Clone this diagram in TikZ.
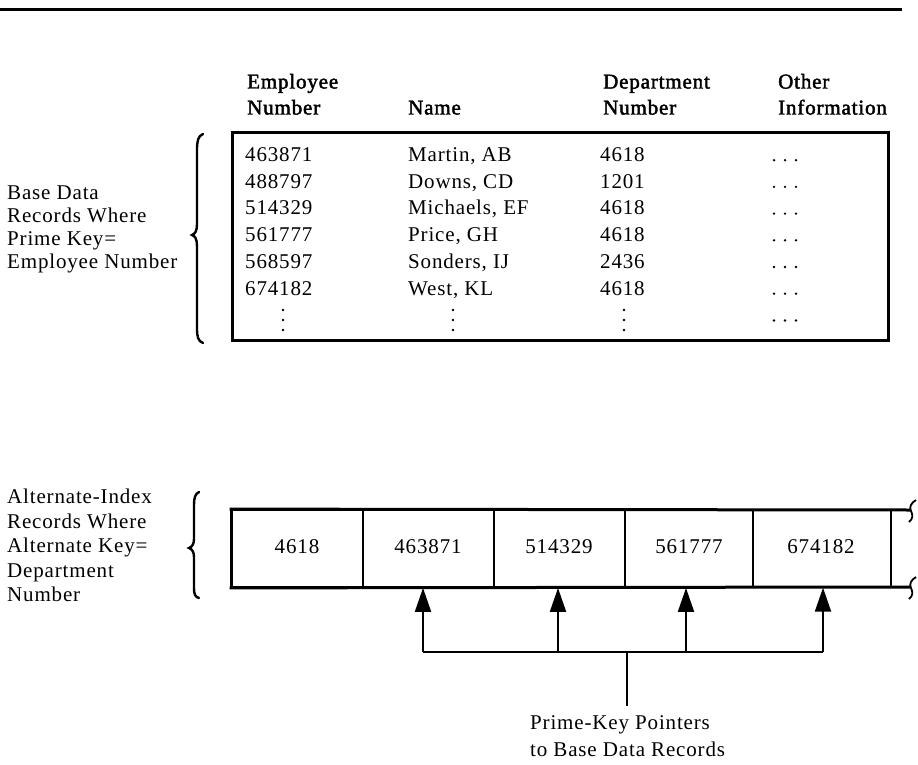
\documentclass[tikz,border=0pt]{standalone}
\usepackage{fontspec}
\setmainfont{Liberation Serif}[LetterSpace=4]
\usetikzlibrary{arrows.meta}
\begin{document}
\begin{tikzpicture}[x=1pt,y=-1pt,
  txt/.style={inner sep=0pt, anchor=base west, font=\fontsize{21}{25}\selectfont},
  hdr/.style={txt, font=\fontsize{21}{25}\selectfont\addfontfeature{FakeBold=2}},
  ctr/.style={inner sep=0pt, anchor=base, font=\fontsize{21}{25}\selectfont},
  cell/.style={draw, line width=1.8pt, inner sep=0pt, minimum height=77pt},
  ptr/.style={line width=2pt, -{Triangle[length=24pt,width=16pt]}},
  wire/.style={line width=2pt},
  brace/.style={line width=2.4pt, line cap=round}]
\useasboundingbox (0,0) rectangle (918,765);
% top rule
\draw[line width=3pt] (0,10) -- (902,10);
% headers
\node[hdr] (h1a) at (247,88.5) {Employee};
\node[hdr] (h1b) at (247,114.5) {Number};
\node[hdr] (h2)  at (408,114.5) {Name};
\node[hdr] (h3a) at (603,88.5) {Department};
\node[hdr] (h3b) at (603,114.5) {Number};
\node[hdr] (h4a) at (778,88.5) {Other};
\node[hdr] (h4b) at (778,114.5) {Information};
% table box
\node[draw, line width=3pt, inner sep=0pt, minimum width=656pt, minimum height=207pt] (tbl) at (560,236.5) {};
% rows
\foreach \i/\a/\b/\c in {0/463871/{Martin, AB}/4618, 1/488797/{Downs, CD}/1201, 2/514329/{Michaels, EF}/4618,
  3/561777/{Price, GH}/4618, 4/568597/{Sonders, IJ}/2436, 5/674182/{West, KL}/4618}{
  \node[txt] (ra\i) at (245,161.5+26.7*\i) {\a};
  \node[txt] (rb\i) at (408,161.5+26.7*\i) {\b};
  \node[txt] (rc\i) at (600,161.5+26.7*\i) {\c};
  \foreach \k in {0,1,2} \fill (774+11*\k,161.5+26.7*\i-1.3) circle (1.3pt);
}
% continuation dots
\foreach \x in {283,453,624} \foreach \k in {0,1,2} \fill (\x,310+10*\k) circle (1.4pt);
\foreach \k in {0,1,2} \fill (774+11*\k,320.5) circle (1.3pt);
% left label top
\node[txt] (l1) at (7,199.5) {Base Data};
\node[txt] (l2) at (7,222.5) {Records Where};
\node[txt] (l3) at (7,245.5) {Prime Key=};
\node[txt] (l4) at (7,268.5) {Employee Number};
% top brace
\draw[brace] (203,134) .. controls (198,136) and (197,141) .. (197,150) -- (197,224)
  .. controls (197,231) and (195,234) .. (192,235) .. controls (195,236) and (197,239) .. (197,246)
  -- (197,328) .. controls (197,337) and (198,341) .. (203,343);
% bottom labels
\node[txt] (m1) at (7,503.5) {Alternate-Index};
\node[txt] (m2) at (7,528) {Records Where};
\node[txt] (m3) at (7,552.5) {Alternate Key=};
\node[txt] (m4) at (7,577) {Department};
\node[txt] (m5) at (7,601.5) {Number};
% bottom brace
\draw[brace] (199,492) .. controls (195,494) and (194,498) .. (194,505) -- (194,539)
  .. controls (194,544) and (192,547) .. (189,548) .. controls (192,549) and (194,552) .. (194,557)
  -- (194,588) .. controls (194,594) and (195,597) .. (199,598);
% index record cells
\node[cell, minimum width=131pt] (c1) at (297.5,548.5) {};
\node[cell, minimum width=131pt] (c2) at (428.5,548.5) {};
\node[cell, minimum width=131pt] (c3) at (559.5,548.5) {};
\node[cell, minimum width=128pt] (c4) at (689,548.5) {};
\node[cell, minimum width=138pt, line width=1.4pt] (c5) at (822,548.5) {};
\node[ctr] (t1) at (297,553.5) {4618};
\node[ctr] (t2) at (428,553.5) {463871};
\node[ctr] (t3) at (559,553.5) {514329};
\node[ctr] (t4) at (689,553.5) {561777};
\node[ctr] (t5) at (821,553.5) {674182};
% outer lines of the record
\draw[line width=3pt] (c1.north west) -- (c1.south west);
\draw[line width=3pt] ([xshift=-1.5pt]c1.north west) -- (910,510);
\draw[line width=3pt] ([xshift=-1.5pt]c1.south west) -- (910,587);
\draw[line width=1.8pt] (916,500) .. controls (911,503) and (909,507) .. (911,511) .. controls (913,515) and (913,519) .. (909,522);
\draw[line width=1.8pt] (916,577) .. controls (911,580) and (909,584) .. (911,588) .. controls (913,592) and (913,596) .. (909,599);
% pointers
\coordinate (p1) at (423,652);
\coordinate (p2) at (558,652);
\coordinate (p3) at (686,652);
\coordinate (p4) at (823,652);
\coordinate (stem) at (627,706);
\draw[wire] (p1) -- (p4);
\draw[ptr] (p1) -- (p1 |- c2.south);
\draw[ptr] (p2) -- (p2 |- c3.south);
\draw[ptr] (p3) -- (p3 |- c4.south);
\draw[ptr] (p4) -- (p4 |- c5.south);
\draw[wire] (stem) -- (stem |- p1);
\node[txt] (q1) at (530,729.5) {Prime-Key Pointers};
\node[txt] (q2) at (530,756.5) {to Base Data Records};
\end{tikzpicture}
\end{document}
